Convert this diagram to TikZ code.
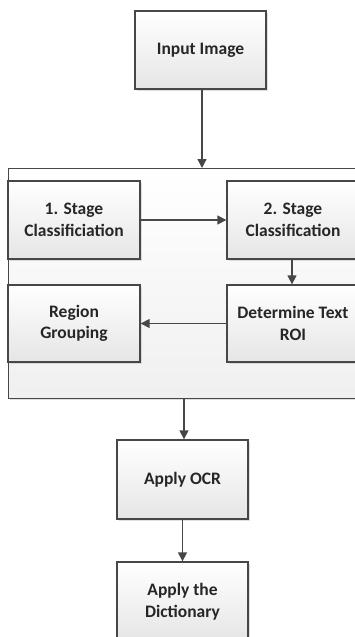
\documentclass[tikz,border=0pt]{standalone}
\usepackage{fontspec}
\setmainfont{Carlito}
\usetikzlibrary{arrows.meta,shadows}
\definecolor{edge}{HTML}{474747}
\definecolor{txt}{HTML}{262626}
\tikzset{
  x=1pt,y=-1pt,
  procbox/.style={draw=edge, line width=1.3pt, top color=white, bottom color=black!10,
    drop shadow={shadow xshift=1.5pt, shadow yshift=-1.5pt, fill=black!25, opacity=0.5},
    font=\fontsize{17.5}{21.5}\selectfont\bfseries, text=txt, align=center, inner sep=0pt},
  groupbox/.style={draw=edge, line width=1.3pt, top color=white, bottom color=black!6,
    drop shadow={shadow xshift=1.5pt, shadow yshift=-1.5pt, fill=black!25, opacity=0.5}},
  flow/.style={draw=edge, line width=1.3pt, -{Triangle[length=9pt,width=9pt]}},
}
\begin{document}
\begin{tikzpicture}
\useasboundingbox (0,0) rectangle (355,637);
\clip (0,0) rectangle (355,637);
% container
\node[groupbox, minimum width=352pt, minimum height=230pt, anchor=north west] (grp) at (8,168) {};
% boxes
\node[procbox, minimum width=131pt, minimum height=78pt] (inp) at (200.5,50) {Input Image};
\node[procbox, minimum width=132pt, minimum height=78pt] (s1) at (74,220) {1. Stage\\Classificiation};
\node[procbox, minimum width=132pt, minimum height=78pt] (s2) at (293,220) {2. Stage\\Classification};
\node[procbox, minimum width=132pt, minimum height=77pt] (roi) at (293,323.5) {Determine Text\\ROI};
\node[procbox, minimum width=132pt, minimum height=77pt] (rg) at (74,323.5) {Region\\Grouping};
\node[procbox, minimum width=131pt, minimum height=79pt] (ocr) at (182.5,479.5) {Apply OCR};
\node[procbox, minimum width=131pt, minimum height=79pt] (dic) at (182.5,601.5) {Apply the\\Dictionary};
% connectors
\coordinate (inpout) at ([xshift=1.5pt]inp.south);
\draw[flow] (inpout) -- (inpout |- grp.north);
\draw[flow] (s1.east) -- (s2.west);
\draw[flow] (s2.south -| 292,0) -- (roi.north -| 292,0);
\draw[flow] (roi.west) -- (rg.east);
\coordinate (ocrin) at ([xshift=1.5pt]ocr.north);
\draw[flow] (ocrin |- grp.south) -- (ocrin);
\draw[flow] (ocr.south) -- (dic.north);
\end{tikzpicture}
\end{document}
